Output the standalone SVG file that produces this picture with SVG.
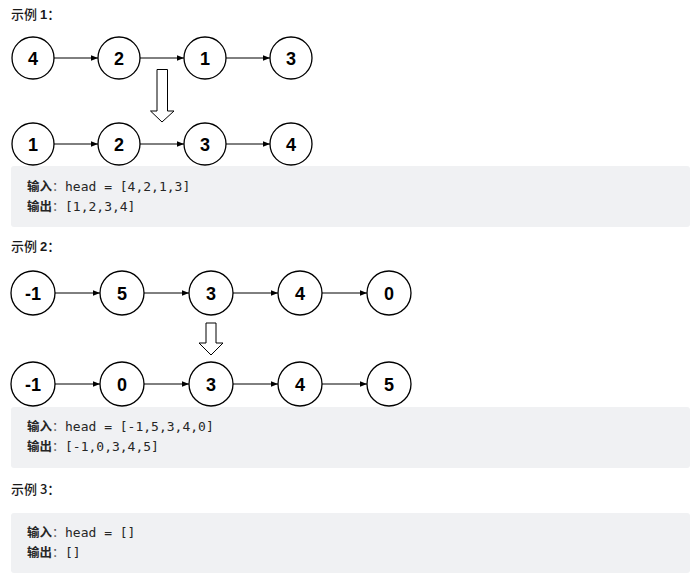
<svg xmlns="http://www.w3.org/2000/svg" width="690" height="584" viewBox="0 0 690 584">
<defs>
<style>
.n circle{fill:#fff;stroke:#000;stroke-width:1.3}
.n text{font-family:"Liberation Sans",Arial,sans-serif;font-weight:bold;font-size:18px;text-anchor:middle;fill:#000}
.e{stroke:#000;stroke-width:1;fill:none;marker-end:url(#ah)}
.big{fill:#fff;stroke:#000;stroke-width:1}
.box{fill:#f0f1f3}
.h{font-family:"Noto Sans CJK SC","Noto Sans",sans-serif;font-size:13px;font-weight:500;fill:#1a1a1a}
.hb{font-family:"Liberation Sans",Arial,sans-serif;font-weight:bold}
.lbl{font-family:"Noto Sans CJK SC",sans-serif;font-weight:bold;font-size:12.5px;fill:#262626}
.col{font-family:"Noto Sans CJK SC",sans-serif;font-size:12.5px;fill:#555}
.code{font-family:"DejaVu Sans Mono","Liberation Mono",monospace;font-size:13px;fill:#262626}
</style>
<marker id="ah" viewBox="0 0 10 10" refX="10" refY="5" markerWidth="7" markerHeight="7" markerUnits="userSpaceOnUse" orient="auto">
<path d="M0,1 L10,5 L0,9 z" fill="#000"/>
</marker>
</defs>
<rect width="690" height="584" fill="#fff"/>

<text class="h" x="11" y="19">示例 <tspan class="hb">1</tspan>：</text>

<g id="connectors">
<line class="e" x1="54" y1="58" x2="98" y2="58"/>
<line class="e" x1="140" y1="58" x2="184" y2="58"/>
<line class="e" x1="226" y1="58" x2="270" y2="58"/>
<line class="e" x1="54" y1="144" x2="98" y2="144"/>
<line class="e" x1="140" y1="144" x2="184" y2="144"/>
<line class="e" x1="226" y1="144" x2="270" y2="144"/>
<line class="e" x1="55" y1="293" x2="100" y2="293"/>
<line class="e" x1="144" y1="293" x2="189" y2="293"/>
<line class="e" x1="233" y1="293" x2="278" y2="293"/>
<line class="e" x1="322" y1="293" x2="367" y2="293"/>
<line class="e" x1="55" y1="384" x2="100" y2="384"/>
<line class="e" x1="144" y1="384" x2="189" y2="384"/>
<line class="e" x1="233" y1="384" x2="278" y2="384"/>
<line class="e" x1="322" y1="384" x2="367" y2="384"/>
</g>

<g id="n1_4" class="n"><circle cx="33" cy="58" r="21"/><text x="33" y="64.5">4</text></g>
<g id="n1_2" class="n"><circle cx="119" cy="58" r="21"/><text x="119" y="64.5">2</text></g>
<g id="n1_1" class="n"><circle cx="205" cy="58" r="21"/><text x="205" y="64.5">1</text></g>
<g id="n1_3" class="n"><circle cx="291" cy="58" r="21"/><text x="291" y="64.5">3</text></g>

<g id="arrow1"><path class="big" d="M157,69.5 H167.5 V111 H174 L162,122 L150.5,111 H157 Z"/></g>

<g id="m1_1" class="n"><circle cx="33" cy="144" r="21"/><text x="33" y="150.5">1</text></g>
<g id="m1_2" class="n"><circle cx="119" cy="144" r="21"/><text x="119" y="150.5">2</text></g>
<g id="m1_3" class="n"><circle cx="205" cy="144" r="21"/><text x="205" y="150.5">3</text></g>
<g id="m1_4" class="n"><circle cx="291" cy="144" r="21"/><text x="291" y="150.5">4</text></g>

<rect class="box" x="11" y="166" width="679" height="61" rx="3"/>
<text x="27" y="191"><tspan class="lbl">输入</tspan><tspan class="col">：</tspan><tspan class="code" x="65">head = [4,2,1,3]</tspan></text>
<text x="27" y="211"><tspan class="lbl">输出</tspan><tspan class="col">：</tspan><tspan class="code" x="65">[1,2,3,4]</tspan></text>

<text class="h" x="11" y="251">示例 <tspan class="hb">2</tspan>：</text>

<g id="n2_a" class="n"><circle cx="33" cy="293" r="22"/><text x="33" y="299.5">-1</text></g>
<g id="n2_b" class="n"><circle cx="122" cy="293" r="22"/><text x="122" y="299.5">5</text></g>
<g id="n2_c" class="n"><circle cx="211" cy="293" r="22"/><text x="211" y="299.5">3</text></g>
<g id="n2_d" class="n"><circle cx="300" cy="293" r="22"/><text x="300" y="299.5">4</text></g>
<g id="n2_e" class="n"><circle cx="389" cy="293" r="22"/><text x="389" y="299.5">0</text></g>

<g id="arrow2"><path class="big" d="M206,323 H216 V343 H223 L211,355 L199,343 H206 Z"/></g>

<g id="m2_a" class="n"><circle cx="33" cy="384" r="22"/><text x="33" y="390.5">-1</text></g>
<g id="m2_b" class="n"><circle cx="122" cy="384" r="22"/><text x="122" y="390.5">0</text></g>
<g id="m2_c" class="n"><circle cx="211" cy="384" r="22"/><text x="211" y="390.5">3</text></g>
<g id="m2_d" class="n"><circle cx="300" cy="384" r="22"/><text x="300" y="390.5">4</text></g>
<g id="m2_e" class="n"><circle cx="389" cy="384" r="22"/><text x="389" y="390.5">5</text></g>

<rect class="box" x="11" y="407" width="679" height="61" rx="3"/>
<text x="27" y="431"><tspan class="lbl">输入</tspan><tspan class="col">：</tspan><tspan class="code" x="65">head = [-1,5,3,4,0]</tspan></text>
<text x="27" y="451"><tspan class="lbl">输出</tspan><tspan class="col">：</tspan><tspan class="code" x="65">[-1,0,3,4,5]</tspan></text>

<text class="h" x="11" y="494">示例 3：</text>

<rect class="box" x="11" y="513" width="679" height="60" rx="3"/>
<text x="27" y="537"><tspan class="lbl">输入</tspan><tspan class="col">：</tspan><tspan class="code" x="65">head = []</tspan></text>
<text x="27" y="557"><tspan class="lbl">输出</tspan><tspan class="col">：</tspan><tspan class="code" x="65">[]</tspan></text>
</svg>
